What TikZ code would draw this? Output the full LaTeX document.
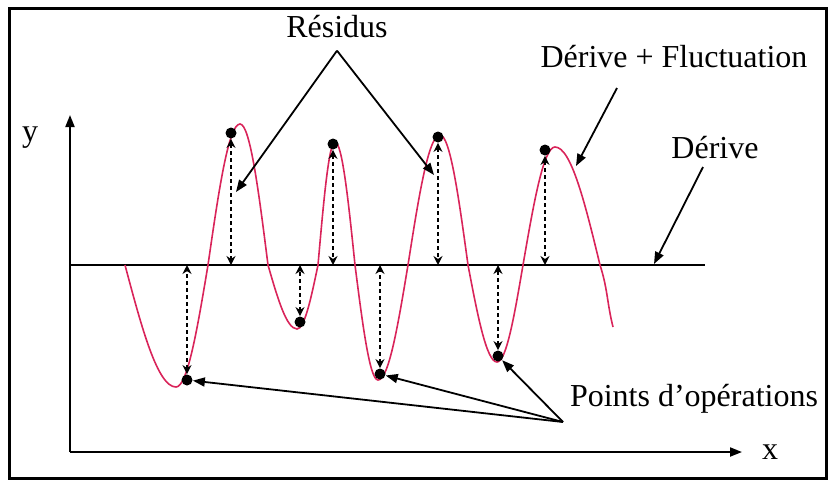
\documentclass[tikz,border=0pt]{standalone}
\usepackage{fontspec}
\setmainfont{Liberation Serif}
\usepackage{tikz}
\usetikzlibrary{arrows.meta,positioning,calc}
\definecolor{curvered}{HTML}{D9245A}

\begin{document}
\begin{tikzpicture}[x=0.5pt,y=-0.5pt,>={Triangle[length=6pt,width=4.5pt]}]
\tikzstyle{lbl}=[font=\fontsize{16}{19}\selectfont,inner sep=0pt]
\tikzstyle{opdot}=[circle,fill=black,inner sep=0pt,minimum size=5.5pt]
\tikzstyle{resid}=[<->,dash pattern=on 2pt off 1.5pt,line width=1pt,>={Stealth[length=4.5pt,width=4.5pt]}]
\tikzstyle{callout}=[->,line width=0.9pt]
\useasboundingbox (0,0) rectangle (829,483);
\draw[line width=1.5pt] (9,8) rectangle (826,478);
% axes
\coordinate (o) at (70,452);
\coordinate (ytop) at (70,115);
\coordinate (xend) at (742,452);
\draw[->,line width=1pt] (o) -- (ytop);
\draw[->,line width=1pt] (o) -- (xend);
\node[lbl] (ylab) at (30,138) {y};
\node[lbl] (xlab) at (770,452) {x};
% derive
\coordinate (d0) at (70,265);
\coordinate (d1) at (705,265);
\draw[line width=0.8pt] (d0) -- (d1);
% derive + fluctuation
\draw[curvered,line width=0.8pt] (125,265) sin (176,387) cos (208,265) sin (240,124) cos (268,265)
  sin (297,329) cos (318,265) sin (335,142) cos (355,265) sin (378,380) cos (408,265)
  sin (440,135) cos (468,265) sin (497,362) cos (523,265) sin (555,147) cos (600,265)
  to[out=-72,in=104] (613,327);
% points d'operations et residus
\foreach \n/\px/\py in {1/187/380,2/231/133,3/300/322,4/333/144,5/380/374,6/438/137,7/498/356,8/545/150}{
    \node[opdot] (p\n) at (\px,\py) {};
    \coordinate (b\n) at (\px,265);
    \draw[resid] (p\n) -- (b\n);
}
% labels
\node[lbl] (res) at (337,27) {Résidus};
\coordinate[below=6pt of res] (resfork);
\coordinate (ra) at (236,192);
\coordinate (rb) at (434,175);
\draw[callout] (resfork) -- (ra);
\draw[callout] (resfork) -- (rb);
\node[lbl] (fluc) at (674,57) {Dérive + Fluctuation};
\coordinate (fa) at (617,88);
\coordinate (fb) at (576,166);
\draw[callout] (fa) -- (fb);
\node[lbl] (der) at (715,148) {Dérive};
\coordinate (da) at (703,167);
\coordinate (db) at (654,264);
\draw[callout] (da) -- (db);
\node[lbl] (pts) at (694,399) {Points d’opérations};
\coordinate (pfork) at (563,422);
\foreach \n in {1,5,7}{
    \draw[callout] (pfork) -- (p\n);
}
\end{tikzpicture}
\end{document}
